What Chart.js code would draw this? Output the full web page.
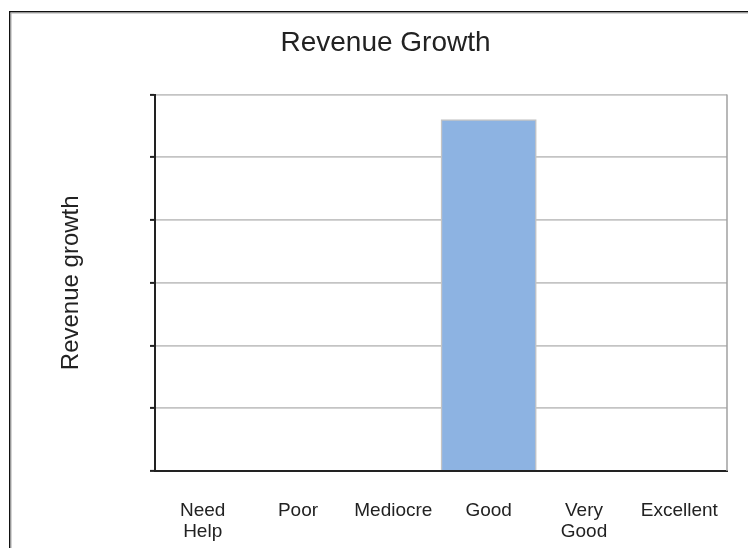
<!DOCTYPE html>
<html>
<head>
<meta charset="utf-8">
<script src="https://cdn.jsdelivr.net/npm/chart.js@4/dist/chart.umd.min.js"></script>
<style>
  html, body { margin: 0; padding: 0; background: #fff; overflow: hidden; }
  #wrap { position: relative; width: 748px; height: 548px; }
</style>
</head>
<body>
<div id="wrap"><canvas id="chart"></canvas></div>
<script>
// data
const categories = [["Need", "Help"], "Poor", "Mediocre", "Good", ["Very", "Good"], "Excellent"];
const revenueGrowth = [null, null, null, 5.6, null, null];
const yRange = [0, 6];

const FONT = "'Liberation Sans', Arial, sans-serif";

// outer frame (only top/left visible) and right edge of plot area
const framePlugin = {
  id: "frame",
  beforeDraw(chart) {
    const ctx = chart.ctx;
    ctx.save();
    ctx.fillStyle = "#fff";
    ctx.fillRect(0, 0, chart.width, chart.height);
    ctx.fillStyle = "#111";
    ctx.fillRect(9, 11, chart.width - 9, 1.5);
    ctx.fillRect(9, 11, 1.5, chart.height - 11);
    ctx.fillStyle = "#aaa";
    ctx.fillRect(10.5, 12.5, chart.width - 10.5, 1);
    ctx.fillRect(10.5, 12.5, 1, chart.height - 12.5);
    ctx.restore();
  },
  afterDraw(chart) {
    const { ctx, chartArea } = chart;
    ctx.save();
    ctx.strokeStyle = "#a0a0a0";
    ctx.lineWidth = 1.5;
    ctx.beginPath();
    ctx.moveTo(chartArea.right, chartArea.top);
    ctx.lineTo(chartArea.right, chartArea.bottom);
    ctx.stroke();
    ctx.restore();
  }
};

new Chart(document.getElementById("chart"), {
  type: "bar",
  data: {
    labels: categories,
    datasets: [{
      label: "Revenue growth",
      data: revenueGrowth,
      backgroundColor: "#8DB3E2",
      borderColor: "#c4c4c4",
      borderWidth: 1.5,
      barPercentage: 1,
      categoryPercentage: 1
    }]
  },
  options: {
    responsive: true,
    maintainAspectRatio: false,
    animation: false,
    layout: { padding: { left: 44, right: 21, top: 0, bottom: 0 } },
    plugins: {
      legend: { display: false },
      tooltip: { enabled: false },
      title: {
        display: true,
        text: "Revenue Growth",
        color: "#222",
        font: { family: FONT, size: 28, weight: "normal", lineHeight: 1.2 },
        padding: { top: 26, bottom: 35 }
      }
    },
    scales: {
      x: {
        grid: { display: false },
        border: { display: true, color: "#222", width: 2 },
        ticks: {
          color: "#222",
          autoSkip: false,
          maxRotation: 0,
          minRotation: 0,
          padding: 21,
          font: { family: FONT, size: 19, lineHeight: 1.1 }
        },
        afterFit(scale) { scale.height = 77; }
      },
      y: {
        min: yRange[0],
        max: yRange[1],
        ticks: { display: false, stepSize: 1 },
        grid: {
          color: "#c4c4c4",
          lineWidth: 1.8,
          drawTicks: true,
          tickLength: 5,
          tickColor: "#222",
          tickWidth: 2
        },
        border: { display: true, color: "#222", width: 2 },
        title: {
          display: true,
          text: "Revenue growth",
          color: "#222",
          font: { family: FONT, size: 24, lineHeight: 1.2 },
          padding: { top: 13, bottom: 0 }
        },
        afterFit(scale) { scale.width = 111; }
      }
    }
  },
  plugins: [framePlugin]
});
</script>
</body>
</html>
